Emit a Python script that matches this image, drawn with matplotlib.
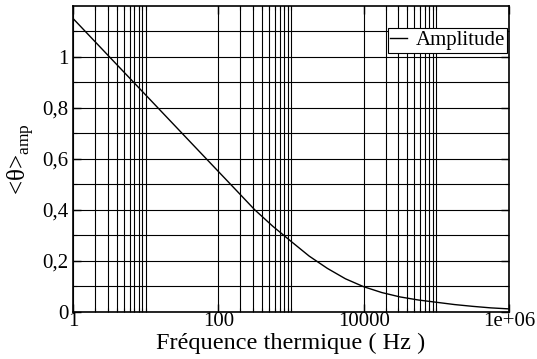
import matplotlib
matplotlib.use("Agg")
import matplotlib.pyplot as plt
from matplotlib.ticker import FixedLocator, FixedFormatter, NullFormatter

plt.rcParams['font.family'] = ['Liberation Serif', 'DejaVu Serif']
plt.rcParams['mathtext.fontset'] = 'custom'
plt.rcParams['mathtext.rm'] = 'Liberation Serif'

# Data
freq = [1, 3.16, 10, 31.6, 100, 178, 316, 562, 1000, 1780, 3160, 5620, 10000,
        17800, 31600, 56200, 100000, 178000, 316000, 562000, 1000000]
amp = [1.15, 1.0, 0.85, 0.70, 0.55, 0.475, 0.40, 0.335, 0.276, 0.218, 0.17, 0.129,
       0.098, 0.075, 0.058, 0.046, 0.037, 0.028, 0.021, 0.015, 0.011]

x_major = [1, 100, 10000, 1000000]
x_major_labels = ["1", "100", "10000", "1e+06"]
x_minor = [2, 3, 4, 5, 6, 7, 8, 9, 10,
           200, 300, 400, 500, 600, 700, 800, 900, 1000,
           20000, 30000, 40000, 50000, 60000, 70000, 80000, 90000, 100000]
y_major = [0, 0.2, 0.4, 0.6, 0.8, 1.0]
y_major_labels = ["0", "0,2", "0,4", "0,6", "0,8", "1"]
y_minor = [0.1, 0.3, 0.5, 0.7, 0.9, 1.1]

fig = plt.figure(figsize=(5.37, 3.59), dpi=100)
ax = fig.add_axes([73/537, 1 - 311.7/359, (509 - 73)/537, (311.7 - 5.7)/359])

ax.plot(freq, amp, color='black', lw=1.0, label='Amplitude', zorder=3)
ax.set_xscale('log')
ax.set_xlim(1, 1e6)
ax.set_ylim(0, 1.2)

ax.xaxis.set_major_locator(FixedLocator(x_major))
ax.xaxis.set_major_formatter(FixedFormatter(x_major_labels))
ax.xaxis.set_minor_locator(FixedLocator(x_minor))
ax.xaxis.set_minor_formatter(NullFormatter())
ax.yaxis.set_major_locator(FixedLocator(y_major))
ax.yaxis.set_major_formatter(FixedFormatter(y_major_labels))
ax.yaxis.set_minor_locator(FixedLocator(y_minor))

ax.grid(True, which='both', color='black', lw=0.8)
ax.tick_params(which='both', direction='in', top=True, right=True, color='black')
ax.tick_params(which='major', length=6, width=1, labelsize=15)
ax.tick_params(axis='x', which='major', pad=0.5)
ax.tick_params(axis='y', which='major', pad=3.5)
ax.tick_params(which='minor', length=3, width=0.8)
for s in ax.spines.values():
    s.set_linewidth(1.2)

ax.set_xlabel('Fréquence thermique ( Hz )', fontsize=17.5, labelpad=1)
ax.set_ylabel('<θ>$_{\\mathrm{amp}}$', fontsize=18)
ax.yaxis.set_label_coords(-0.085, 0.5)

leg = ax.legend(loc='upper right', bbox_to_anchor=(0.996, 0.927), fontsize=15,
                frameon=True, fancybox=False, edgecolor='black', framealpha=1,
                handlelength=0.8, handletextpad=0.4, borderpad=0.12,
                borderaxespad=0)
leg.get_frame().set_linewidth(0.8)

fig.savefig('out.png', dpi=100)
